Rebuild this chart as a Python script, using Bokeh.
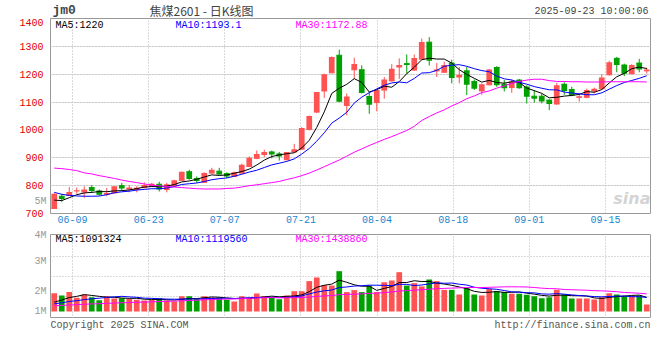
import pandas as pd
from bokeh.plotting import figure
from bokeh.layouts import column
from bokeh.models import FixedTicker, Label, Range1d, ColumnDataSource, LinearAxis, Grid
from bokeh.embed import file_html
from bokeh.resources import INLINE

# ---------------- data ----------------
dates = [d.strftime("%m-%d") for d in pd.bdate_range("2025-06-04", "2025-09-23")]

open_ = [718, 762, 765, 781, 777, 793, 781, 769, 774, 800,
         788, 786, 793, 798, 805, 786, 800, 819, 850, 826,
         812, 845, 852, 843, 833, 845, 869, 898, 912, 921,
         914, 893, 921, 931, 1002, 1064, 1140, 1205, 1268, 1088,
         1216, 1216, 1120, 1098, 1143, 1176, 1226, 1238, 1215, 1254,
         1315, 1212, 1207, 1240, 1190, 1212, 1174, 1140, 1162, 1224,
         1164, 1152, 1179, 1154, 1121, 1121, 1107, 1093, 1164, 1145,
         1117, 1117, 1140, 1148, 1198, 1257, 1233, 1202, 1240, 1212]
high = [773, 770, 795, 793, 798, 802, 786, 792, 798, 810,
        802, 798, 812, 810, 814, 810, 821, 850, 857, 833,
        848, 864, 864, 848, 850, 879, 905, 926, 929, 926,
        921, 921, 950, 1010, 1052, 1136, 1202, 1264, 1288, 1131,
        1259, 1232, 1136, 1143, 1190, 1236, 1257, 1271, 1271, 1328,
        1333, 1240, 1245, 1252, 1226, 1226, 1181, 1167, 1219, 1229,
        1179, 1181, 1183, 1160, 1143, 1131, 1110, 1169, 1171, 1155,
        1131, 1148, 1152, 1200, 1248, 1262, 1238, 1236, 1255, 1224]
low = [716, 742, 765, 771, 756, 774, 764, 762, 771, 783,
       776, 776, 790, 795, 779, 776, 798, 817, 821, 810,
       810, 843, 838, 827, 831, 843, 867, 895, 902, 898,
       890, 891, 919, 929, 998, 1060, 1115, 1203, 1100, 1052,
       1183, 1131, 1058, 1067, 1112, 1174, 1183, 1202, 1212, 1252,
       1231, 1190, 1205, 1167, 1167, 1125, 1143, 1126, 1160, 1155,
       1138, 1133, 1148, 1095, 1098, 1095, 1071, 1090, 1126, 1121,
       1102, 1114, 1131, 1145, 1195, 1207, 1193, 1200, 1207, 1202]
close = [771, 752, 777, 783, 786, 781, 767, 774, 798, 790,
         793, 792, 802, 807, 786, 805, 819, 850, 824, 817,
         845, 857, 840, 833, 848, 875, 900, 914, 921, 912,
         905, 921, 931, 1007, 1050, 1136, 1200, 1262, 1101, 1120,
         1237, 1133, 1090, 1143, 1181, 1220, 1233, 1233, 1258, 1316,
         1248, 1217, 1233, 1186, 1198, 1162, 1148, 1164, 1217, 1160,
         1150, 1174, 1150, 1119, 1112, 1102, 1093, 1160, 1140, 1124,
         1121, 1143, 1148, 1188, 1243, 1233, 1202, 1233, 1217, 1217]
# volume, millions of lots
volume_m = [1.45, 1.27, 1.54, 1.09, 1.35, 1.13, 0.90, 1.22, 1.03, 1.06,
            1.00, 0.93, 0.87, 0.93, 1.06, 0.87, 0.80, 1.22, 1.22, 1.00,
            1.22, 1.11, 1.11, 0.93, 0.80, 1.22, 1.11, 1.43, 1.22, 1.11,
            0.97, 1.27, 1.61, 1.61, 2.41, 2.70, 2.09, 2.06, 3.20, 1.54,
            1.70, 1.54, 2.06, 1.54, 2.32, 2.46, 3.12, 2.06, 2.25, 1.99,
            2.54, 2.41, 1.72, 1.72, 1.35, 1.87, 1.35, 1.27, 1.80, 1.61,
            1.55, 1.40, 1.40, 1.32, 1.22, 1.06, 1.13, 1.72, 1.35, 1.03,
            1.03, 1.03, 0.96, 1.13, 1.45, 1.35, 1.22, 1.22, 1.27, 0.55]
# 30-day average of the close
ma30_close = [863, 861, 858, 854, 846, 842, 836, 831, 826, 820,
              815, 811, 806, 802, 799, 797, 795, 793, 791, 789,
              788, 788, 788, 790, 791, 795, 800, 803, 807, 811,
              815, 822, 828, 836, 845, 856, 868, 880, 892, 906,
              920, 932, 944, 955, 966, 976, 987, 998, 1013, 1034,
              1048, 1061, 1072, 1086, 1098, 1112, 1122, 1134, 1140, 1150,
              1158, 1167, 1174, 1179, 1182, 1182, 1177, 1174, 1174, 1173,
              1173, 1172, 1172, 1172, 1173, 1173, 1173, 1173, 1173, 1172]
# sessions before the window (estimated from where the average lines start)
prior_close = [822, 817, 803, 796, 782, 760, 725, 730, 754]
prior_volume_m = [0.36, 0.38, 0.35, 0.37, 0.39, 0.36, 0.38, 0.37, 0.35, 0.38,
                  0.37, 0.36, 0.39, 0.38, 0.36, 0.37, 0.38, 0.36, 0.37, 0.38,
                  0.47, 0.48, 0.47, 0.48, 0.49, 0.42, 0.56, 0.61, 0.66]

tick_labels = ["06-09", "06-23", "07-07", "07-21", "08-04", "08-18", "09-01", "09-15"]
price_ticks = [700, 800, 900, 1000, 1100, 1200, 1300, 1400]

title_code = "jm0"
title_main = "焦煤2601 - 日K线图"
timestamp = "2025-09-23 10:00:06"
ma_price_labels = ["MA5:1220", "MA10:1193.1", "MA30:1172.88"]
ma_vol_labels = ["MA5:1091324", "MA10:1119560", "MA30:1438860"]
vol_axis_labels = ["5M", "4M", "3M", "2M", "1M"]
footer_left = "Copyright 2025 SINA.COM"
footer_right = "http://finance.sina.com.cn"

# ---------------- layout constants (page pixels) ----------------
RED = "#ff5252"
GREEN = "#00a000"
MA_COLORS = ["#000000", "#0000ff", "#ff00ff"]
GRID = "#b4b4b4"
BORDER = "#999999"
MONO = "Liberation Mono"
LEFT, FW = 50, 600
PX_PER_SLOT = FW / len(close)
PRICE_TOP_PX, PRICE_BOT_PX = 18, 213          # pixels of 1400 / 700
VOL_TOP_PX, VOL_BOT_PX, VOL_ZERO_PX = 234, 318, 311
VOL_PX_PER_M = 12.6
FOOT_H = 18

n = len(close)
x = list(range(n))

def price_at(py):
    return 1400 - (py - PRICE_TOP_PX) * 700.0 / (PRICE_BOT_PX - PRICE_TOP_PX)

def vol_at(py):
    return (VOL_ZERO_PX - py) / VOL_PX_PER_M

def slot_at(px):
    return (px - LEFT) / PX_PER_SLOT - 0.5

x_ticks = [round(slot_at(72 + k * 76.13), 3) for k in range(len(tick_labels))]

cs = pd.Series(prior_close + close)
ma5 = cs.rolling(5).mean().iloc[-n:].tolist()
ma10 = cs.rolling(10).mean().iloc[-n:].tolist()
vs = pd.Series(prior_volume_m + volume_m)
vma = [vs.rolling(w).mean().iloc[-n:].tolist() for w in (5, 10, 30)]

colors = [RED if c >= o else GREEN for o, c in zip(open_, close)]
src = ColumnDataSource(dict(
    x=x, o=open_, h=high, l=low, c=close,
    top=[max(o, c) for o, c in zip(open_, close)],
    bot=[min(o, c) for o, c in zip(open_, close)],
    xl=[i - 0.38 for i in x], xr=[i + 0.38 for i in x],
    color=colors, vol=volume_m))

xr = Range1d(-0.5, n - 0.5)

def base_fig(frame_h, top, bottom, y_range, **kw):
    f = figure(frame_width=FW, frame_height=frame_h,
               min_border_left=LEFT, min_border_right=8,
               min_border_top=top, min_border_bottom=bottom,
               x_range=xr, y_range=y_range,
               output_backend="svg", toolbar_location=None,
               background_fill_color="white", border_fill_color="white",
               outline_line_color=BORDER, outline_line_width=1, **kw)
    return f

def style_grid(g):
    g.grid_line_color = GRID
    g.grid_line_dash = "1 2"
    g.grid_line_width = 1

def style_axis(ax, color):
    ax.axis_line_color = None
    ax.major_tick_in = 0
    ax.major_tick_out = 0
    ax.minor_tick_line_color = None
    ax.major_label_text_font = MONO
    ax.major_label_text_font_size = "10px"
    ax.major_label_text_color = color

# ---------------- title strip ----------------
tf = base_fig(PRICE_TOP_PX, 0, 0, Range1d(PRICE_TOP_PX, 0))
tf.outline_line_color = None
tf.xaxis.visible = False
tf.yaxis.visible = False
tf.grid.visible = False
tf.add_layout(Label(x=slot_at(52), y=9.5, text=title_code, text_font=MONO,
                    text_font_size="13px", text_font_style="bold",
                    text_baseline="middle"))
tf.add_layout(Label(x=slot_at(201), y=9.5, text=title_main,
                    text_font="Noto Sans CJK SC", text_font_size="12px",
                    text_align="center", text_baseline="middle"))
tf.add_layout(Label(x=slot_at(648), y=11, text=timestamp, text_font=MONO,
                    text_font_size="10px", text_align="right", text_baseline="middle"))

# ---------------- price panel ----------------
p1 = base_fig(PRICE_BOT_PX - PRICE_TOP_PX, 0, 16, Range1d(700, 1400), y_axis_location=None)
p1.xaxis.ticker = FixedTicker(ticks=x_ticks)
p1.xaxis.major_label_overrides = {t: lab for t, lab in zip(x_ticks, tick_labels)}
style_axis(p1.xaxis[0], "#1a86d0")
p1.xaxis.major_label_standoff = 2
style_grid(p1.xgrid[0])

# the stray grey volume label that the source chart prints beside the price axis
five_m = round(price_at(201), 2)
gray_axis = LinearAxis(ticker=FixedTicker(ticks=[five_m]),
                       major_label_overrides={five_m: vol_axis_labels[0]},
                       major_label_standoff=4)
style_axis(gray_axis, "#999999")
p1.add_layout(gray_axis, "left")
price_axis = LinearAxis(ticker=FixedTicker(ticks=price_ticks), major_label_standoff=-12)
style_axis(price_axis, "#e00000")
p1.add_layout(price_axis, "left")
ygrid = Grid(dimension=1, ticker=FixedTicker(ticks=price_ticks))
style_grid(ygrid)
p1.add_layout(ygrid)

p1.segment(x0="x", y0="h", x1="x", y1="l", color="color", line_width=1, source=src)
p1.vbar(x="x", width=0.76, top="top", bottom="bot", fill_color="color",
        line_color=None, source=src)
p1.segment(x0="xl", y0="o", x1="xr", y1="o", color="color", line_width=1, source=src)
p1.line(x, ma5, color=MA_COLORS[0], line_width=1)
p1.line(x, ma10, color=MA_COLORS[1], line_width=1)
p1.line(x, ma30_close, color=MA_COLORS[2], line_width=1)

for txt, px, col in zip(ma_price_labels, (55, 175, 295), MA_COLORS):
    p1.add_layout(Label(x=slot_at(px), y=price_at(24.5), text=txt,
                        text_color=col, text_font=MONO, text_font_size="10px",
                        text_baseline="middle"))
p1.add_layout(Label(x=slot_at(650), y=price_at(207), text="sina",
                    text_color="#c8c8c8", text_alpha=0.8, text_font="DejaVu Sans",
                    text_font_size="16px", text_font_style="bold italic",
                    text_align="right", text_baseline="bottom"))

# ---------------- volume panel ----------------
p2 = base_fig(VOL_BOT_PX - VOL_TOP_PX, 5, 0, Range1d(vol_at(VOL_BOT_PX), vol_at(VOL_TOP_PX)))
p2.xaxis.visible = False
vol_ticks = [vol_at(VOL_TOP_PX), vol_at(261), vol_at(291), vol_at(311)]
p2.yaxis.ticker = FixedTicker(ticks=vol_ticks)
p2.yaxis.major_label_overrides = {t: lab for t, lab in zip(vol_ticks, vol_axis_labels[1:])}
style_axis(p2.yaxis[0], "#999999")
p2.yaxis.major_label_standoff = 4
style_grid(p2.xgrid[0])
style_grid(p2.ygrid[0])
p2.xgrid.ticker = FixedTicker(ticks=x_ticks)
p2.ygrid.ticker = FixedTicker(ticks=[vol_at(256), vol_at(276), vol_at(296)])

p2.vbar(x="x", width=0.76, top="vol", bottom=0, fill_color="color",
        line_color=None, source=src)
for series, col in zip(vma, MA_COLORS):
    p2.line(x, series, color=col, line_width=1)

for txt, px, col in zip(ma_vol_labels, (55, 175, 295), MA_COLORS):
    p2.add_layout(Label(x=slot_at(px), y=vol_at(238.5), text=txt,
                        text_color=col, text_font=MONO, text_font_size="10px",
                        text_baseline="middle"))

# ---------------- footer strip ----------------
ff = base_fig(FOOT_H, 0, 0, Range1d(FOOT_H, 0))
ff.outline_line_color = None
ff.xaxis.visible = False
ff.yaxis.visible = False
ff.grid.visible = False
ff.add_layout(Label(x=slot_at(50), y=6.5, text=footer_left, text_color="#555555",
                    text_font=MONO, text_font_size="10px", text_baseline="middle"))
ff.add_layout(Label(x=slot_at(650), y=6.5, text=footer_right, text_color="#555555",
                    text_font=MONO, text_font_size="10px", text_align="right",
                    text_baseline="middle"))

layout = column(tf, p1, p2, ff, spacing=0)
open("out.html", "w").write(file_html(layout, INLINE))
